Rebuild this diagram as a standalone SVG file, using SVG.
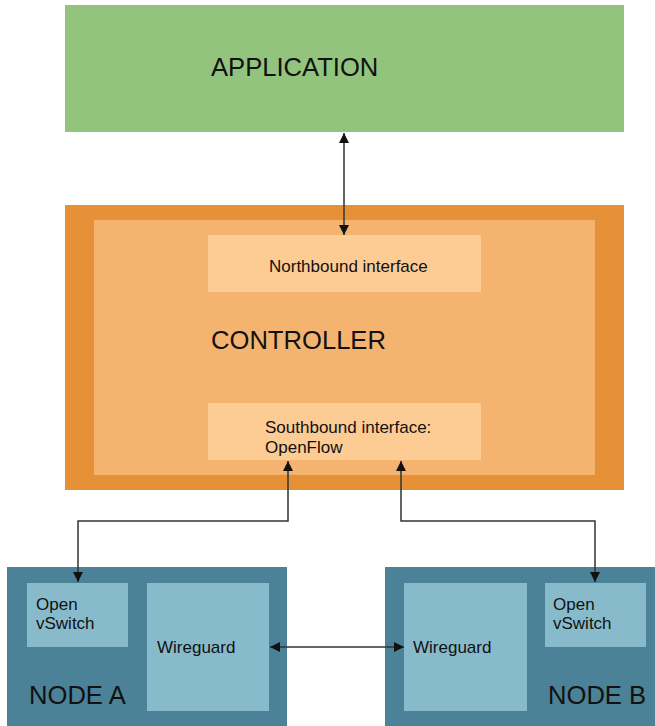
<svg xmlns="http://www.w3.org/2000/svg" width="655" height="726" viewBox="0 0 655 726">
<style>
text{font-family:"Liberation Sans",Arial,sans-serif;fill:#111}
.big{font-size:25.6px}
.sm{font-size:17px}
.conn{fill:none;stroke:#333;stroke-width:1.5}
</style>
<defs>
<marker id="ah" viewBox="0 0 10 10" refX="10" refY="5" markerWidth="10" markerHeight="10" markerUnits="userSpaceOnUse" orient="auto-start-reverse">
<path d="M0,0 L10,5 L0,10 z" fill="#111"/>
</marker>
</defs>
<rect width="655" height="726" fill="#fff"/>
<g id="application">
<rect x="65" y="5" width="559" height="127" fill="#93c47d"/>
<text class="big" x="211" y="76">APPLICATION</text>
</g>
<g id="controller">
<rect x="65" y="205" width="559" height="285" fill="#e69138"/>
<rect x="94" y="220" width="501" height="255" fill="#f4b36e"/>
<text class="big" x="211" y="349">CONTROLLER</text>
</g>
<g id="northbound">
<rect x="208" y="235" width="273" height="57" fill="#fdcb94"/>
<text class="sm" x="269" y="272">Northbound interface</text>
</g>
<g id="southbound">
<rect x="208" y="403" width="273" height="57" fill="#fdcb94"/>
<text class="sm" x="265" y="433">Southbound interface:</text>
<text class="sm" x="265" y="453">OpenFlow</text>
</g>
<g id="nodeA">
<rect x="7" y="567" width="280" height="159" fill="#4b8297"/>
<text class="big" x="29" y="704">NODE A</text>
</g>
<g id="ovsA">
<rect x="27" y="583" width="101" height="64" fill="#87bbcb"/>
<text class="sm" x="36" y="610">Open</text>
<text class="sm" x="36" y="629">vSwitch</text>
</g>
<g id="wgA">
<rect x="147" y="583" width="122" height="128" fill="#87bbcb"/>
<text class="sm" x="157" y="653">Wireguard</text>
</g>
<g id="nodeB">
<rect x="385" y="567" width="270" height="159" fill="#4b8297"/>
<text class="big" x="548" y="704">NODE B</text>
</g>
<g id="wgB">
<rect x="404" y="583" width="123" height="128" fill="#87bbcb"/>
<text class="sm" x="413" y="653">Wireguard</text>
</g>
<g id="ovsB">
<rect x="545" y="583" width="101" height="64" fill="#87bbcb"/>
<text class="sm" x="553" y="610">Open</text>
<text class="sm" x="553" y="629">vSwitch</text>
</g>
<g id="connectors">
<path class="conn" d="M344,133 L344,235" marker-start="url(#ah)" marker-end="url(#ah)"/>
<path class="conn" d="M288,461 L288,521 L78,521 L78,582" marker-start="url(#ah)" marker-end="url(#ah)"/>
<path class="conn" d="M401,461 L401,521 L595,521 L595,582" marker-start="url(#ah)" marker-end="url(#ah)"/>
<path class="conn" d="M270,647 L404,647" marker-start="url(#ah)" marker-end="url(#ah)"/>
</g>
</svg>
